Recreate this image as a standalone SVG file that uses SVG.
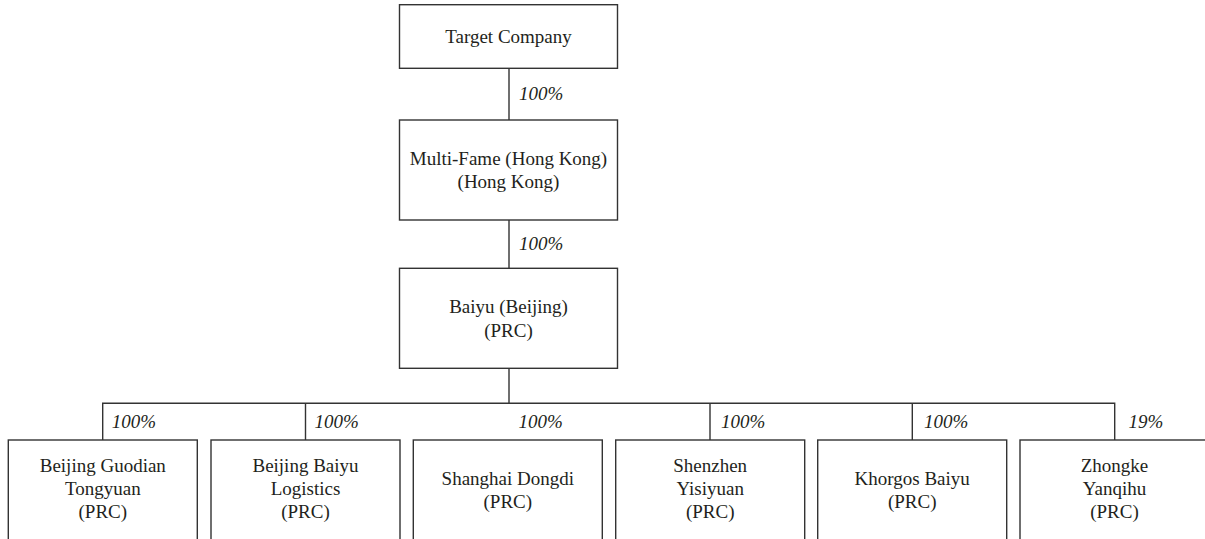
<svg xmlns="http://www.w3.org/2000/svg" width="1205" height="539" viewBox="0 0 1205 539">
<style>
.box{fill:#fff;stroke:#333;stroke-width:1.4}
.t{font-family:"Liberation Serif","Times New Roman",serif;font-size:19px;fill:#231f20;text-anchor:middle}
.p{font-family:"Liberation Serif","Times New Roman",serif;font-size:19px;font-style:italic;fill:#231f20}
.ln{fill:none;stroke:#333;stroke-width:1.4}
</style>
<rect width="1205" height="539" fill="#fff"/>
<g id="connectors">
<path class="ln" d="M509 68.3V120M509 220V268.3M509 368.3V403.3M102.7 440V403.3H1114.7V440M305.5 403.3V440M710 403.3V440M912.3 403.3V440"/>
<text class="p" x="519" y="100">100%</text>
<text class="p" x="519" y="250">100%</text>
<text class="p" x="111.7" y="428">100%</text>
<text class="p" x="314.5" y="428">100%</text>
<text class="p" x="518.5" y="428">100%</text>
<text class="p" x="721" y="428">100%</text>
<text class="p" x="924" y="428">100%</text>
<text class="p" x="1128.5" y="428">19%</text>
</g>
<g id="target">
<rect class="box" x="399.5" y="4.7" width="218" height="63.6"/>
<text class="t" x="508.5" y="43.3">Target Company</text>
</g>
<g id="multifame">
<rect class="box" x="399.5" y="120" width="218" height="100"/>
<text class="t" x="508.5" y="165">Multi-Fame (Hong Kong)</text>
<text class="t" x="508.5" y="188.3">(Hong Kong)</text>
</g>
<g id="baiyu">
<rect class="box" x="399.5" y="268.3" width="218" height="100"/>
<text class="t" x="508.5" y="313.3">Baiyu (Beijing)</text>
<text class="t" x="508.5" y="336.7">(PRC)</text>
</g>
<g id="guodian">
<rect class="box" x="8.3" y="440" width="189" height="120"/>
<text class="t" x="102.8" y="471.7">Beijing Guodian</text>
<text class="t" x="102.8" y="495">Tongyuan</text>
<text class="t" x="102.8" y="518.3">(PRC)</text>
</g>
<g id="logistics">
<rect class="box" x="211" y="440" width="189" height="120"/>
<text class="t" x="305.5" y="471.7">Beijing Baiyu</text>
<text class="t" x="305.5" y="495">Logistics</text>
<text class="t" x="305.5" y="518.3">(PRC)</text>
</g>
<g id="dongdi">
<rect class="box" x="413.3" y="440" width="189" height="120"/>
<text class="t" x="507.8" y="485">Shanghai Dongdi</text>
<text class="t" x="507.8" y="508.3">(PRC)</text>
</g>
<g id="yisiyuan">
<rect class="box" x="615.7" y="440" width="189" height="120"/>
<text class="t" x="710.2" y="471.7">Shenzhen</text>
<text class="t" x="710.2" y="495">Yisiyuan</text>
<text class="t" x="710.2" y="518.3">(PRC)</text>
</g>
<g id="khorgos">
<rect class="box" x="817.7" y="440" width="189" height="120"/>
<text class="t" x="912.2" y="485">Khorgos Baiyu</text>
<text class="t" x="912.2" y="508.3">(PRC)</text>
</g>
<g id="zhongke">
<rect class="box" x="1020" y="440" width="189" height="120"/>
<text class="t" x="1114.5" y="471.7">Zhongke</text>
<text class="t" x="1114.5" y="495">Yanqihu</text>
<text class="t" x="1114.5" y="518.3">(PRC)</text>
</g>
</svg>
